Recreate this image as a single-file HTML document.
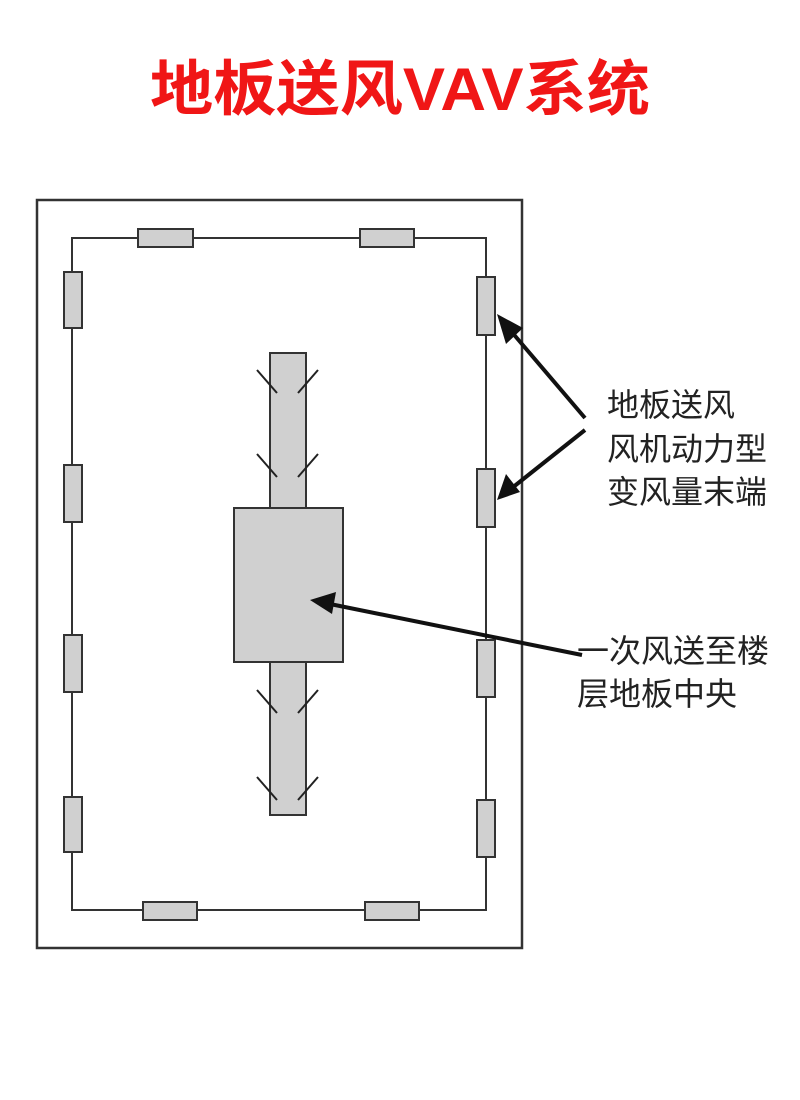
<!DOCTYPE html>
<html><head><meta charset="utf-8"><style>html,body{margin:0;padding:0;background:#fff}svg{display:block}</style></head>
<body>
<svg width="800" height="1100" viewBox="0 0 800 1100" xmlns="http://www.w3.org/2000/svg">
<text x="400" y="110" text-anchor="middle" font-family="'Liberation Sans','Noto Sans CJK SC',sans-serif" font-weight="bold" font-size="60" fill="#f01616" textLength="500" lengthAdjust="spacingAndGlyphs">地板送风VAV系统</text>
<rect x="37" y="200" width="485" height="748" fill="none" stroke="#333" stroke-width="2.5"/>
<rect x="72" y="238" width="414" height="672" fill="none" stroke="#333" stroke-width="2"/>
<g fill="#d0d0d0" stroke="#333" stroke-width="2">
<rect x="138" y="229" width="55" height="18"/><rect x="360" y="229" width="54" height="18"/>
<rect x="143" y="902" width="54" height="18"/><rect x="365" y="902" width="54" height="18"/>
<rect x="64" y="272" width="18" height="56"/><rect x="64" y="465" width="18" height="57"/>
<rect x="64" y="635" width="18" height="57"/><rect x="64" y="797" width="18" height="55"/>
<rect x="477" y="277" width="18" height="58"/><rect x="477" y="469" width="18" height="58"/>
<rect x="477" y="640" width="18" height="57"/><rect x="477" y="800" width="18" height="57"/>
<rect x="270" y="353" width="36" height="462"/>
<rect x="234" y="508" width="109" height="154"/>
</g>
<g stroke="#222" stroke-width="2" fill="none">
<path d="M257,370 L277,393 M318,370 L298,393"/>
<path d="M257,454 L277,477 M318,454 L298,477"/>
<path d="M257,690 L277,713 M318,690 L298,713"/>
<path d="M257,777 L277,800 M318,777 L298,800"/>
</g>
<g stroke="#111" stroke-width="4" fill="#111">
<line x1="585" y1="418" x2="510" y2="330"/>
<line x1="585" y1="430" x2="512" y2="488"/>
<line x1="582" y1="655" x2="330" y2="604"/>
<polygon points="497,314 523,328 506,344" stroke="none"/>
<polygon points="497,500 506,474 520,492" stroke="none"/>
<polygon points="310,600 336,592 332,614" stroke="none"/>
</g>
<g font-family="'Liberation Sans','Noto Sans CJK SC',sans-serif" font-size="32" fill="#222">
<text x="607" y="416">地板送风</text>
<text x="607" y="460">风机动力型</text>
<text x="607" y="503">变风量末端</text>
<text x="577" y="662">一次风送至楼</text>
<text x="577" y="705">层地板中央</text>
</g>
</svg>
</body></html>
